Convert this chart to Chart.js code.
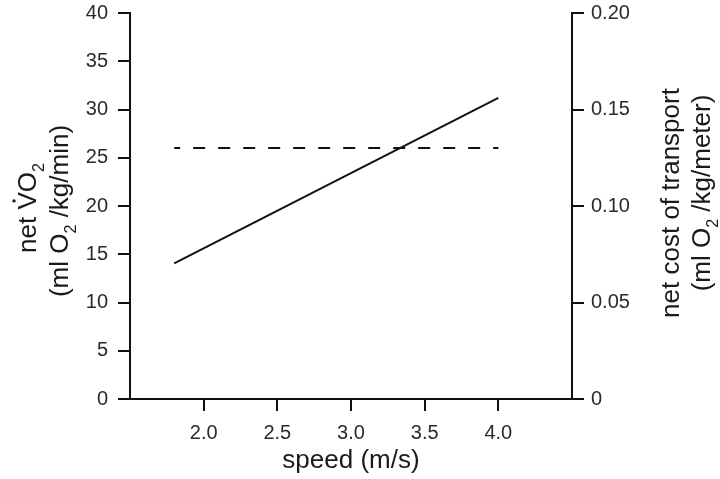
<!DOCTYPE html>
<html>
<head>
<meta charset="utf-8">
<script src="https://cdn.jsdelivr.net/npm/chart.js@4"></script>
<style>
  body { margin: 0; background: #fff; }
  canvas { display: block; }
</style>
</head>
<body>
<canvas id="c" width="720" height="479"></canvas>
<script>
// data
const speed = [1.8, 4.0];
const netVO2 = [14.05, 31.2];
const costSpeed = [1.8, 4.0];
const netCost = [0.13, 0.13];
const xTicks = [2.0, 2.5, 3.0, 3.5, 4.0];

const FONT = "'Liberation Sans', Arial, sans-serif";
const INK = "#111";
const TSIZE = 26;

// draws text rotated -90deg (or flat) with subscripts and the dot over V
function drawRich(ctx, parts, cx, cy, size, rotate) {
  ctx.save();
  ctx.translate(cx, cy);
  if (rotate) ctx.rotate(-Math.PI / 2);
  let w = 0;
  parts.forEach(p => {
    ctx.font = (p[1] === 's' ? size * 0.62 : size) + "px " + FONT;
    w += ctx.measureText(p[0]).width;
  });
  let x = -w / 2;
  const base = size * 0.36;
  ctx.fillStyle = "#1a1a1a";
  ctx.textAlign = "left";
  ctx.textBaseline = "alphabetic";
  parts.forEach(p => {
    const sub = p[1] === 's';
    ctx.font = (sub ? size * 0.62 : size) + "px " + FONT;
    const tw = ctx.measureText(p[0]).width;
    ctx.fillText(p[0], x, sub ? base + size * 0.28 : base);
    if (p[1] === 'd') {
      ctx.beginPath();
      ctx.arc(x + tw / 2, base - size * 0.86, size * 0.065, 0, Math.PI * 2);
      ctx.fill();
    }
    x += tw;
  });
  ctx.restore();
}

const titles = {
  id: "titles",
  afterDraw(chart) {
    const ctx = chart.ctx;
    const ca = chart.chartArea;
    const r = chart.scales.y1.left;
    drawRich(ctx, [["net ", "n"], ["V", "d"], ["O", "n"], ["2", "s"]], 27, 208, TSIZE, true);
    drawRich(ctx, [["(ml O", "n"], ["2", "s"], [" /kg/min)", "n"]], 59, 211, TSIZE, true);
    drawRich(ctx, [["net cost of transport", "n"]], r + 98, 203, TSIZE, true);
    drawRich(ctx, [["(ml O", "n"], ["2", "s"], [" /kg/meter)", "n"]], r + 129, 193, TSIZE, true);
    drawRich(ctx, [["speed (m/s)", "n"]], (ca.left + ca.right) / 2, 459, TSIZE, false);
  }
};

const axisGrid = {
  drawOnChartArea: false,
  color: INK,
  lineWidth: 2,
  tickLength: 12,
};
const axisBorder = { color: INK, width: 2 };
const tickFont = { family: FONT, size: 20 };

new Chart(document.getElementById("c"), {
  type: "line",
  data: {
    datasets: [
      {
        data: speed.map((s, i) => ({ x: s, y: netVO2[i] })),
        yAxisID: "y",
        borderColor: INK,
        borderWidth: 2,
        pointRadius: 0,
        tension: 0,
      },
      {
        data: costSpeed.map((s, i) => ({ x: s, y: netCost[i] })),
        yAxisID: "y1",
        borderColor: INK,
        borderWidth: 2,
        borderDash: [12, 13],
        borderDashOffset: 6,
        pointRadius: 0,
        tension: 0,
      },
    ],
  },
  options: {
    responsive: false,
    animation: false,
    layout: { padding: 0 },
    plugins: { legend: { display: false }, tooltip: { enabled: false } },
    scales: {
      x: {
        type: "linear",
        min: 1.5,
        max: 4.5,
        grid: axisGrid,
        border: axisBorder,
        afterBuildTicks: (s) => { s.ticks = xTicks.map(v => ({ value: v })); },
        afterFit: (s) => { s.height = 80; s.paddingLeft = 0; s.paddingRight = 0; },
        ticks: {
          font: tickFont,
          color: "#2a2a2a",
          padding: 10,
          maxRotation: 0,
          callback: (v) => v.toFixed(1),
        },
      },
      y: {
        position: "left",
        min: 0,
        max: 40,
        grid: axisGrid,
        border: axisBorder,
        afterFit: (s) => { s.width = 130; s.paddingTop = 13; s.paddingBottom = 0; },
        ticks: { stepSize: 5, font: tickFont, color: "#2a2a2a", padding: 10 },
      },
      y1: {
        position: "right",
        min: 0,
        max: 0.2,
        grid: axisGrid,
        border: axisBorder,
        afterFit: (s) => { s.width = 148; s.paddingTop = 13; s.paddingBottom = 0; },
        ticks: {
          stepSize: 0.05,
          font: tickFont,
          color: "#2a2a2a",
          padding: 7,
          callback: (v) => (v === 0 ? "0" : v.toFixed(2)),
        },
      },
    },
  },
  plugins: [titles],
});
</script>
</body>
</html>
